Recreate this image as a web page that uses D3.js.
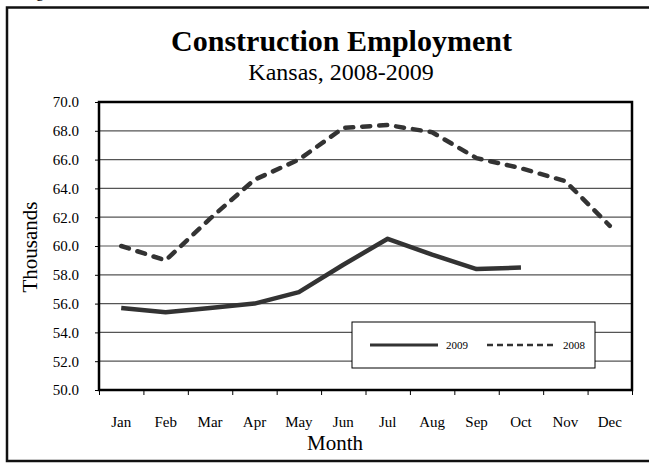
<!DOCTYPE html>
<html><head><meta charset="utf-8">
<script src="https://cdn.jsdelivr.net/npm/d3@7"></script>
<style>body{margin:0;background:#fff}svg{display:block}svg text{font-family:"Liberation Serif","Times New Roman",Times,serif !important;fill:#000}</style>
</head><body><svg id="c" width="649" height="464"></svg>
<script>
const months = ["Jan","Feb","Mar","Apr","May","Jun","Jul","Aug","Sep","Oct","Nov","Dec"];
const values2009 = [55.7,55.4,55.7,56.0,56.8,58.7,60.5,59.4,58.4,58.5];
const values2008 = [60.0,59.0,61.9,64.6,66.0,68.2,68.4,67.9,66.1,65.4,64.5,61.4];
const yTicks = [50,52,54,56,58,60,62,64,66,68,70];
const seriesNames = ["2009","2008"];

const SERIF = '"Liberation Serif", "Times New Roman", serif';
const svg = d3.select("#c");
const L=99,R=632,T=102,B=390;
const x = d3.scaleBand().domain(months).range([L,R]);
const xb = d3.scaleLinear().domain([0,12]).range([L,R]);
const y = d3.scaleLinear().domain([50,70]).range([B,T]);

// outer border
svg.append("rect").attr("x",7).attr("y",7.5).attr("width",700).attr("height",453.5)
  .attr("fill","none").attr("stroke","#111").attr("stroke-width",2.5);
svg.append("text").attr("x",36).attr("y",-3).attr("font-size",16).style("font-family",SERIF).text("g");

// titles
svg.append("text").attr("x",341.5).attr("y",51).attr("text-anchor","middle")
  .attr("font-size",30).attr("font-weight","bold").style("font-family",SERIF).text("Construction Employment");
svg.append("text").attr("x",341).attr("y",80).attr("text-anchor","middle")
  .attr("font-size",24).style("font-family",SERIF).text("Kansas, 2008-2009");

// gridlines
svg.append("g").selectAll("line").data(yTicks.slice(1,-1)).join("line")
  .attr("x1",L).attr("x2",R).attr("y1",d=>y(d)).attr("y2",d=>y(d))
  .attr("stroke","#555").attr("stroke-width",1.2);

// y axis
const ya = svg.append("g").attr("transform",`translate(${L},0)`)
  .call(d3.axisLeft(y).tickValues(yTicks).tickFormat(d3.format(".1f")).tickSize(4).tickPadding(16));
ya.attr("font-family",null);
ya.select(".domain").remove();
ya.selectAll("text").attr("font-size",15).style("font-family",SERIF);
ya.selectAll("line").attr("stroke","#000");

// x axis ticks at boundaries
const xt = svg.append("g").attr("transform",`translate(0,${B})`)
  .call(d3.axisBottom(xb).ticks(12).tickFormat("").tickSize(5));
xt.select(".domain").remove();
// x labels
const xl = svg.append("g").attr("transform",`translate(0,${B})`)
  .call(d3.axisBottom(x).tickSize(0).tickPadding(26));
xl.attr("font-family",null);
xl.select(".domain").remove();
xl.selectAll("text").attr("font-size",15).style("font-family",SERIF);

// plot frame
svg.append("rect").attr("x",L).attr("y",T).attr("width",R-L).attr("height",B-T)
  .attr("fill","none").attr("stroke","#000").attr("stroke-width",2.5);

// axis titles
svg.append("text").attr("x",335).attr("y",450).attr("text-anchor","middle").attr("font-size",21).style("font-family",SERIF).text("Month");
svg.append("text").attr("transform","translate(37,247) rotate(-90)").attr("text-anchor","middle").attr("font-size",21).style("font-family",SERIF).text("Thousands");

// lines
const line = d3.line().x((d,i)=>x(months[i])+x.bandwidth()/2).y(d=>y(d));
svg.append("path").datum(values2008).attr("d",line).attr("fill","none")
  .attr("stroke","#333").attr("stroke-width",4.5).attr("stroke-linecap","round")
  .attr("stroke-linejoin","round").attr("stroke-dasharray","8,9");
svg.append("path").datum(values2009).attr("d",line).attr("fill","none")
  .attr("stroke","#333").attr("stroke-width",4.5).attr("stroke-linejoin","round");

// legend
const lg = svg.append("g");
lg.append("rect").attr("x",352).attr("y",322).attr("width",243).attr("height",46)
  .attr("fill","#fff").attr("stroke","#000").attr("stroke-width",1);
lg.append("line").attr("x1",370).attr("x2",438).attr("y1",345).attr("y2",345)
  .attr("stroke","#333").attr("stroke-width",3);
lg.append("text").attr("x",446).attr("y",349).attr("font-size",11).style("font-family",SERIF).text(seriesNames[0]);
lg.append("line").attr("x1",487).attr("x2",555).attr("y1",345).attr("y2",345)
  .attr("stroke","#333").attr("stroke-width",2.5).attr("stroke-dasharray","6,4");
lg.append("text").attr("x",563).attr("y",349).attr("font-size",11).style("font-family",SERIF).text(seriesNames[1]);
</script></body></html>
